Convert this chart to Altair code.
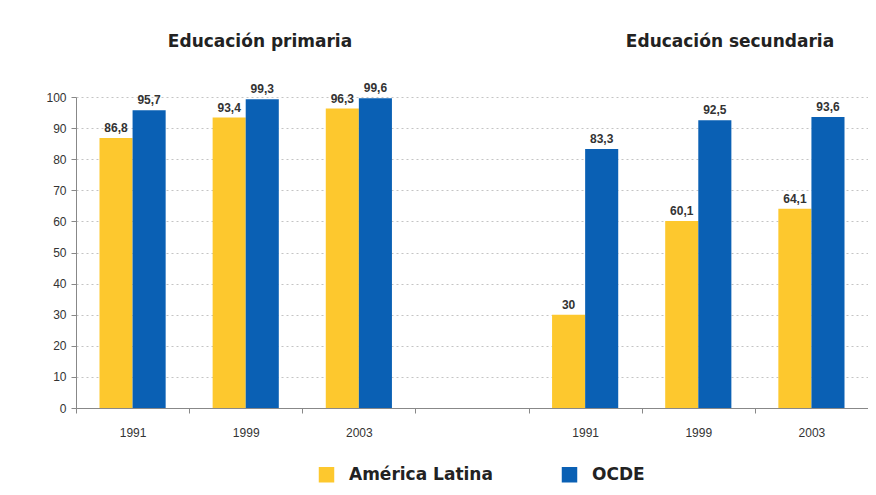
import altair as alt
import pandas as pd

years = ["1991", "1999", "2003"]
levels = ["Educación primaria", "Educación secundaria"]
series = ["América Latina", "OCDE"]
al_primaria = [86.8, 93.4, 96.3]
ocde_primaria = [95.7, 99.3, 99.6]
al_secundaria = [30, 60.1, 64.1]
ocde_secundaria = [83.3, 92.5, 93.6]
colors = ["#FDC82E", "#0A60B4"]

slots = ["p" + y for y in years] + ["gap"] + ["s" + y for y in years]

rows = []
for prefix, al, oc in [("p", al_primaria, ocde_primaria), ("s", al_secundaria, ocde_secundaria)]:
    for y, a, o in zip(years, al, oc):
        for s, v in zip(series, [a, o]):
            rows.append({"slot": prefix + y, "series": s, "value": float(v),
                         "label": f"{v:g}".replace(".", ",")})
df = pd.DataFrame(rows)

x_enc = alt.X("slot:N",
              scale=alt.Scale(domain=slots, paddingInner=0, paddingOuter=0),
              axis=alt.Axis(title=None, labelAngle=0, tickBand="extent",
                            labelExpr="(isString(datum.value) && datum.value != 'gap') ? slice(datum.value, 1) : ''",
                            labelFont="Liberation Sans", labelFontSize=12, labelColor="#333",
                            tickSize=5, labelPadding=14, domainColor="#888", tickColor="#888"))
xo_enc = alt.XOffset("series:N", sort=series,
                     scale=alt.Scale(paddingInner=0, paddingOuter=0.71))
y_enc = alt.Y("value:Q",
              scale=alt.Scale(domain=[0, 100], nice=False),
              axis=alt.Axis(title=None, values=list(range(0, 101, 10)), grid=True,
                            gridDash=[2, 3], gridColor="#c4c4c4", tickSize=5, labelPadding=5,
                            domainColor="#888", tickColor="#888",
                            labelFont="Liberation Sans", labelFontSize=12, labelColor="#333"))

bars = alt.Chart(df).mark_bar().encode(
    x=x_enc, xOffset=xo_enc, y=y_enc,
    color=alt.Color("series:N", scale=alt.Scale(domain=series, range=colors),
                    legend=alt.Legend(title=None, orient="none", legendX=242, legendY=369,
                                      direction="horizontal",
                                      symbolType="square", symbolSize=240,
                                      labelFont="DejaVu Sans", labelFontWeight="bold",
                                      labelFontSize=17, labelColor="#222",
                                      columnPadding=68, labelOffset=14)),
)

labels = alt.Chart(df).mark_text(baseline="bottom", dy=-3, font="Liberation Sans",
                                  fontWeight="bold", fontSize=12, color="#333").encode(
    x=x_enc, xOffset=xo_enc, y=y_enc, text="label:N")

title_left = alt.Chart(pd.DataFrame({"t": [levels[0]]})).mark_text(
    font="DejaVu Sans", fontWeight="bold", fontSize=17, color="#222").encode(
    text="t:N", x=alt.value(184), y=alt.value(-55))
title_right = alt.Chart(pd.DataFrame({"t": [levels[1]]})).mark_text(
    font="DejaVu Sans", fontWeight="bold", fontSize=17, color="#222").encode(
    text="t:N", x=alt.value(654), y=alt.value(-55))

chart = alt.layer(bars, labels, title_left, title_right).properties(
    width=792, height=311,
    autosize=alt.AutoSizeParams(type="none"),
    padding={"left": 68, "top": 89, "right": 0, "bottom": 79},
).configure_view(stroke=None)

chart.save("out.html", embed_options={"renderer": "svg", "actions": False})
